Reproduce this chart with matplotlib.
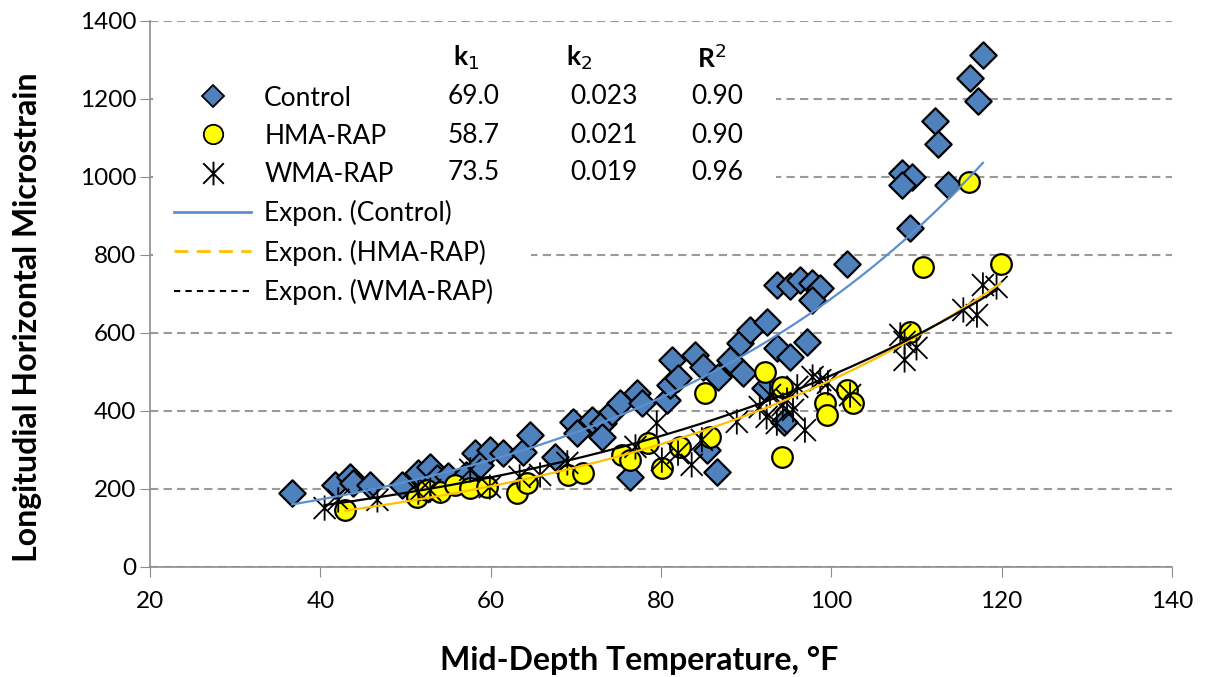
import numpy as np
import matplotlib.pyplot as plt
from matplotlib.lines import Line2D
from matplotlib.patches import Rectangle
from matplotlib.path import Path

plt.rcParams['font.family'] = ['Lato', 'DejaVu Sans']

# Control (diamonds)
ctrl_x = [36.7, 41.7, 43.5, 43.8, 45.8, 49.6, 51.5, 52.9, 53.7, 55.0, 57.1, 58.2, 58.7,
          59.9, 61.4, 63.8, 64.6, 67.6, 69.7, 70.1, 71.9, 73.2, 73.1, 74.2, 75.2, 76.4,
          77.2, 77.8, 80.7, 81.1, 81.3, 82.0, 84.0, 84.9, 86.7, 85.4, 86.6, 88.1, 89.6,
          89.3, 90.4, 92.4, 93.6, 95.1, 96.3, 97.7, 98.7, 97.7, 93.6, 95.1, 97.1, 94.4,
          92.2, 101.8, 109.2, 108.3, 109.5, 108.3, 113.7, 112.2, 112.5, 116.3, 117.2, 117.8]
ctrl_y = [190, 210, 231, 215, 210, 210, 241, 256, 228, 233, 236, 292, 262,
          300, 292, 295, 338, 282, 372, 344, 377, 369, 333, 397, 421, 231,
          446, 421, 428, 467, 531, 485, 544, 513, 487, 300, 244, 531, 497,
          574, 608, 628, 723, 721, 736, 728, 715, 685, 562, 538, 577, 372,
          459, 777, 869, 1010, 1000, 979, 979, 1144, 1085, 1254, 1195, 1313]

# HMA-RAP (circles)
hma_x = [42.9, 51.3, 52.5, 54.0, 55.8, 57.6, 59.6, 63.1, 64.3, 69.1, 70.8, 75.4, 76.4,
         78.5, 80.1, 82.2, 85.8, 85.2, 92.2, 94.2, 94.2, 99.3, 99.5, 101.8, 102.5,
         109.2, 110.8, 116.2, 119.9]
hma_y = [146, 179, 197, 192, 210, 203, 205, 190, 215, 236, 241, 287, 274,
         318, 254, 308, 333, 446, 500, 462, 282, 421, 390, 454, 421,
         603, 769, 987, 777]

# WMA-RAP (asterisks)
wma_x = [40.5, 42.1, 46.7, 51.5, 52.9, 57.6, 59.9, 63.4, 65.8, 69.0, 77.0, 79.5, 80.1,
         82.0, 83.6, 84.8, 88.9, 91.6, 92.4, 92.8, 93.6, 94.8, 96.0, 96.9, 97.8, 98.7,
         99.6, 102.2, 94.3, 95.5, 108.1, 108.6, 110.0, 108.6, 115.5, 117.1, 117.8, 119.4]
wma_y = [151, 172, 172, 192, 197, 249, 205, 231, 236, 267, 308, 369, 274,
         292, 262, 326, 372, 410, 385, 441, 369, 428, 462, 351, 487, 479,
         472, 441, 415, 403, 595, 577, 562, 531, 659, 646, 723, 718]

# exponential fit coefficients y = k1 * exp(k2 * T)
names = ['Control', 'HMA-RAP', 'WMA-RAP']
k1 = [69.0, 58.7, 73.5]
k2 = [0.023, 0.021, 0.019]
r2 = [0.90, 0.90, 0.96]

blue = '#4F81BD'
fit_colors = ['#5B8FD0', '#FFC000', '#000000']

# X with a vertical bar, like the spreadsheet "star" marker
star = Path([(-1, -1), (1, 1), (-1, 1), (1, -1), (0, -1.15), (0, 1.15)],
            [Path.MOVETO, Path.LINETO, Path.MOVETO, Path.LINETO, Path.MOVETO, Path.LINETO])

fig = plt.figure(figsize=(12.06, 6.77), dpi=100)
ax = fig.add_axes([0.1244, 0.1625, 0.8474, 0.8065])

ax.scatter(ctrl_x, ctrl_y, marker='D', s=180, c=blue, edgecolors='black', linewidths=1.6, zorder=3)
ax.scatter(hma_x, hma_y, marker='o', s=220, c='#FFFF00', edgecolors='black', linewidths=1.6, zorder=4)
ax.scatter(wma_x, wma_y, marker=star, s=330, facecolors='none', edgecolors='black',
           linewidths=1.3, zorder=5)

for xs, a, b, col in zip([ctrl_x, hma_x, wma_x], k1, k2, fit_colors):
    t = np.linspace(min(xs), max(xs), 200)
    ax.plot(t, a * np.exp(b * t), color=col, lw=1.6, zorder=6)

ax.set_xlim(20, 140)
ax.set_ylim(0, 1400)
ax.set_xticks(range(20, 141, 20))
ax.set_yticks(range(0, 1401, 200))
ax.yaxis.grid(True, color='#9a9a9a', linestyle=(0, (4, 2.5)), linewidth=1.5)
ax.set_axisbelow(True)
for s in ['top', 'right']:
    ax.spines[s].set_visible(False)
for s in ['left', 'bottom']:
    ax.spines[s].set_color('#8c8c8c')
    ax.spines[s].set_linewidth(1.2)
ax.tick_params(axis='both', direction='out', length=7, color='#8c8c8c', labelsize=17.5)
ax.tick_params(axis='y', pad=3)
ax.tick_params(axis='x', pad=10)
ax.set_xlabel('Mid-Depth Temperature, °F', fontsize=23, fontweight='bold')
ax.set_ylabel('Longitudial Horizontal Microstrain', fontsize=23, fontweight='bold')
ax.xaxis.set_label_coords(0.479, -0.145)
ax.yaxis.set_label_coords(-0.106, 0.458)

# white areas behind legend and table
ax.add_patch(Rectangle((0.003, 0.52), 0.37, 0.46, transform=ax.transAxes,
                       facecolor='white', edgecolor='none', zorder=1))
ax.add_patch(Rectangle((0.003, 0.70), 0.61, 0.28, transform=ax.transAxes,
                       facecolor='white', edgecolor='none', zorder=1))

handles = [
    Line2D([], [], marker='D', ls='none', ms=11, mfc=blue, mec='black', mew=1.3),
    Line2D([], [], marker='o', ls='none', ms=14, mfc='#FFFF00', mec='black', mew=1.3),
    Line2D([], [], marker=star, ls='none', ms=17, mfc='none', mec='black', mew=1.4),
    Line2D([], [], color=fit_colors[0], lw=2),
    Line2D([], [], color=fit_colors[1], lw=2, ls=(0, (5, 3))),
    Line2D([], [], color='black', lw=1.5, ls=(0, (3, 2.5))),
]
labels = names + ['Expon. (%s)' % n for n in names]
ax.legend(handles, labels, loc='upper left', bbox_to_anchor=(0.011, 0.906), frameon=False,
          fontsize=19, handlelength=2.9, handletextpad=0.5, labelspacing=0.5, borderpad=0)

cols = [0.296, 0.407, 0.535]
heads = ['k$_1$', 'k$_2$', 'R$^2$']
for cx, h in zip(cols, heads):
    ax.text(cx, 0.932, h, transform=ax.transAxes, fontsize=19, fontweight='bold', va='center')
rows = [0.861, 0.791, 0.723]
for ry, a, b, r in zip(rows, k1, k2, r2):
    ax.text(cols[0] - 0.005, ry, '%.1f' % a, transform=ax.transAxes, fontsize=19, va='center')
    ax.text(cols[1] + 0.004, ry, '%.3f' % b, transform=ax.transAxes, fontsize=19, va='center')
    ax.text(cols[2] - 0.005, ry, '%.2f' % r, transform=ax.transAxes, fontsize=19, va='center')

fig.savefig('out.png', dpi=100)
